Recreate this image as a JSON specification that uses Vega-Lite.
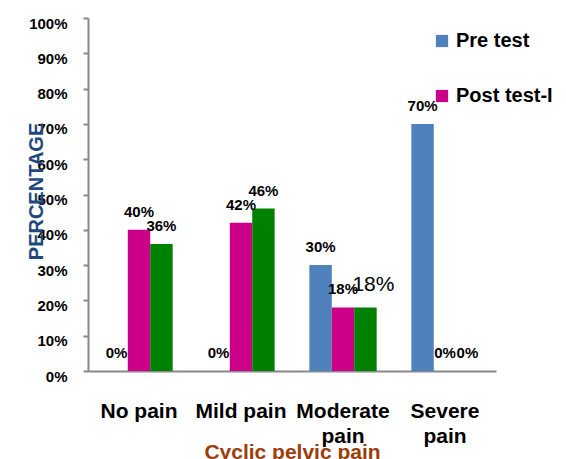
{
  "$schema": "https://vega.github.io/schema/vega-lite/v6.json",
  "width": 408,
  "height": 353,
  "autosize": {"type": "none"},
  "padding": {"left": 88, "top": 18, "right": 70, "bottom": 88},
  "background": "white",
  "config": {"font": "Liberation Sans", "view": {"stroke": null}},
  "data": {
    "values": [
      {"category": "No pain", "series": "Pre test", "value": 0},
      {"category": "No pain", "series": "Post test-I", "value": 0.40},
      {"category": "No pain", "series": "Post test-II", "value": 0.36},
      {"category": "Mild pain", "series": "Pre test", "value": 0},
      {"category": "Mild pain", "series": "Post test-I", "value": 0.42},
      {"category": "Mild pain", "series": "Post test-II", "value": 0.46},
      {"category": "Moderate\npain", "series": "Pre test", "value": 0.30},
      {"category": "Moderate\npain", "series": "Post test-I", "value": 0.18},
      {"category": "Moderate\npain", "series": "Post test-II", "value": 0.18},
      {"category": "Severe\npain", "series": "Pre test", "value": 0.70},
      {"category": "Severe\npain", "series": "Post test-I", "value": 0},
      {"category": "Severe\npain", "series": "Post test-II", "value": 0}
    ]
  },
  "encoding": {
    "x": {
      "field": "category",
      "type": "nominal",
      "sort": ["No pain", "Mild pain", "Moderate\npain", "Severe\npain"],
      "scale": {"paddingInner": 0.34, "paddingOuter": 0.17},
      "axis": {
        "title": "Cyclic pelvic pain",
        "titleFontSize": 21,
        "titleFontWeight": "bold",
        "titleColor": "#9C3D0A",
        "titleY": 87,
        "titleBaseline": "alphabetic",
        "labelExpr": "split(datum.label, '\\n')",
        "labelFontSize": 21,
        "labelFontWeight": "bold",
        "labelColor": "black",
        "labelAngle": 0,
        "labelBaseline": "alphabetic",
        "labelPadding": 46,
        "labelLineHeight": 25,
        "labelOverlap": false,
        "labelLimit": 0,
        "ticks": false,
        "tickSize": 0,
        "domainColor": "#888888",
        "domainWidth": 2
      }
    },
    "xOffset": {
      "field": "series",
      "sort": ["Pre test", "Post test-I", "Post test-II"],
      "scale": {"paddingInner": 0, "paddingOuter": 0}
    },
    "y": {
      "field": "value",
      "type": "quantitative",
      "scale": {"domain": [0, 1]},
      "axis": {
        "title": "PERCENTAGE",
        "titleFontSize": 20,
        "titleFontWeight": "bold",
        "titleColor": "#1F497D",
        "titleX": -46,
        "titleY": 173,
        "titleBaseline": "alphabetic",
        "values": [0, 0.1, 0.2, 0.3, 0.4, 0.5, 0.6, 0.7, 0.8, 0.9, 1],
        "format": ".0%",
        "labelFontSize": 15,
        "labelFontWeight": "bold",
        "labelColor": "black",
        "labelPadding": 16,
        "labelOffset": 5,
        "tickSize": 5,
        "tickColor": "#888888",
        "tickWidth": 2,
        "domainColor": "#888888",
        "domainWidth": 2,
        "grid": false
      }
    }
  },
  "layer": [
    {
      "mark": {"type": "bar"},
      "encoding": {
        "color": {
          "field": "series",
          "type": "nominal",
          "scale": {
            "domain": ["Pre test", "Post test-I", "Post test-II"],
            "range": ["#4F81BD", "#CC0088", "#008000"]
          },
          "legend": {
            "values": ["Pre test", "Post test-I"],
            "orient": "none",
            "legendX": 344,
            "legendY": 13,
            "title": null,
            "padding": 0,
            "symbolType": "square",
            "symbolSize": 150,
            "symbolStrokeWidth": 0,
            "labelFontSize": 20,
            "labelFontWeight": "bold",
            "labelColor": "black",
            "labelOffset": 4,
            "rowPadding": 35,
            "labelLimit": 0
          }
        }
      }
    },
    {
      "transform": [{"filter": "!(indexof(datum.category, 'Moderate') >= 0 && datum.series == 'Post test-II')"}],
      "mark": {"type": "text", "dy": -13, "baseline": "alphabetic", "fontWeight": "bold", "fontSize": 15, "color": "black"},
      "encoding": {"text": {"field": "value", "type": "quantitative", "format": ".0%"}}
    },
    {
      "transform": [{"filter": "indexof(datum.category, 'Moderate') >= 0 && datum.series == 'Post test-II'"}],
      "mark": {"type": "text", "dy": -16, "dx": 8, "baseline": "alphabetic", "fontSize": 21, "color": "black"},
      "encoding": {"text": {"field": "value", "type": "quantitative", "format": ".0%"}}
    }
  ]
}
